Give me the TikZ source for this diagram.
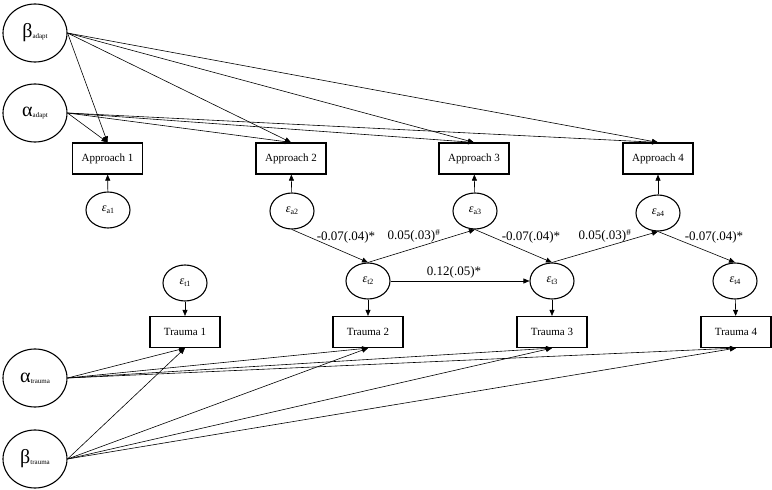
\documentclass[tikz,border=0pt]{standalone}
\usepackage{fontspec}
\setmainfont{Liberation Serif}
\usetikzlibrary{arrows.meta,shapes.geometric}
\tikzset{
  bigell/.style={draw, line width=1.1pt, ellipse, minimum width=64pt, minimum height=58pt, inner sep=0pt},
  smallell/.style={draw, line width=1.1pt, ellipse, minimum width=44pt, minimum height=36pt, inner sep=0pt},
  obsbox/.style={draw, line width=1.2pt, rectangle, minimum width=70pt, minimum height=31pt, inner sep=0pt, font=\fontsize{11}{13}\selectfont},
  conn/.style={draw, line width=0.6pt, -{Triangle[length=6pt,width=5pt]}},
  lab/.style={font=\fontsize{13}{15}\selectfont, inner sep=0pt}
}
\newcommand{\greekl}[2]{{\fontsize{20}{22}\selectfont #1}\raisebox{-0.2ex}{\fontsize{7}{8}\selectfont #2}}
\newcommand{\epsl}[1]{{\fontsize{12}{13}\selectfont\itshape ε}\raisebox{-0.4ex}{\fontsize{8}{9}\selectfont #1}}
\begin{document}
\begin{tikzpicture}[x=1pt,y=-1pt]
\useasboundingbox (0,0) rectangle (772,490);
% latent growth factors
\node[bigell] (ba) at (35,33) {\greekl{β}{adapt}};
\node[bigell] (aa) at (35,113) {\greekl{α}{adapt}};
\node[bigell] (at) at (35,378) {\greekl{α}{trauma}};
\node[bigell] (bt) at (35,459) {\greekl{β}{trauma}};
% approach boxes
\node[obsbox] (ap1) at (107.5,158.5) {Approach 1};
\node[obsbox] (ap2) at (291,158.5) {Approach 2};
\node[obsbox] (ap3) at (474,158.5) {Approach 3};
\node[obsbox] (ap4) at (658,158.5) {Approach 4};
% trauma boxes
\node[obsbox] (tr1) at (185,332) {Trauma 1};
\node[obsbox] (tr2) at (368,332) {Trauma 2};
\node[obsbox] (tr3) at (552,332) {Trauma 3};
\node[obsbox] (tr4) at (736,332) {Trauma 4};
% residuals
\node[smallell] (ea1) at (108,210) {\epsl{a1}};
\node[smallell] (ea2) at (292,211) {\epsl{a2}};
\node[smallell] (ea3) at (475,211) {\epsl{a3}};
\node[smallell] (ea4) at (658,213) {\epsl{a4}};
\node[smallell] (et1) at (185,283) {\epsl{t1}};
\node[smallell] (et2) at (368,281) {\epsl{t2}};
\node[smallell] (et3) at (552,281) {\epsl{t3}};
\node[smallell] (et4) at (735,281) {\epsl{t4}};
% growth factor loadings
\foreach \n in {ap1,ap2,ap3,ap4} {
  \draw[conn] (ba.east) -- (\n.north);
  \draw[conn] (aa.east) -- (\n.north);
}
\foreach \n in {tr1,tr2,tr3,tr4} {
  \draw[conn] (at.east) -- (\n.south);
  \draw[conn] (bt.east) -- (\n.south);
}
% residual to observed
\draw[conn] (ea1) -- (ap1);
\draw[conn] (ea2) -- (ap2);
\draw[conn] (ea3) -- (ap3);
\draw[conn] (ea4) -- (ap4);
\draw[conn] (et1) -- (tr1);
\draw[conn] (et2) -- (tr2);
\draw[conn] (et3) -- (tr3);
\draw[conn] (et4) -- (tr4);
% cross-lagged and autoregressive paths
\draw[conn] (ea2.south) -- (et2.north);
\draw[conn] (et2.north) -- (ea3.south);
\draw[conn] (ea3.south) -- (et3.north);
\draw[conn] (et2.east) -- (et3.west);
\draw[conn] (et3.north) -- (ea4.south);
\draw[conn] (ea4.south) -- (et4.north);
% labels
\node[lab] (l1) at (346,237) {-0.07(.04)*};
\node[lab] (l2) at (414,236) {0.05(.03)\textsuperscript{\#}};
\node[lab] (l3) at (531,237) {-0.07(.04)*};
\node[lab] (l4) at (454,272) {0.12(.05)*};
\node[lab] (l5) at (605,236) {0.05(.03)\textsuperscript{\#}};
\node[lab] (l6) at (714,237) {-0.07(.04)*};
\end{tikzpicture}
\end{document}
